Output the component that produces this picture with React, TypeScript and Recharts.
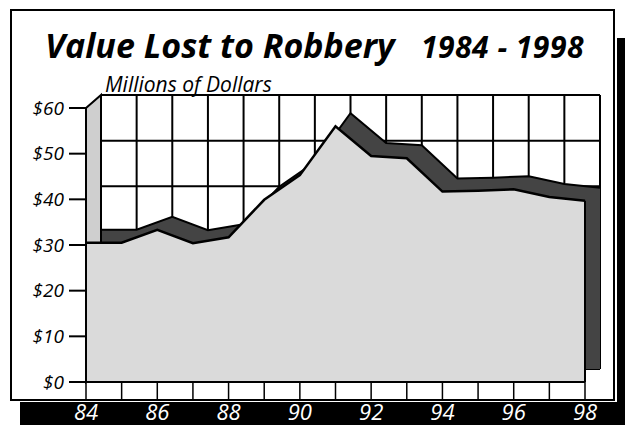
import React from 'react';
import { AreaChart, Area, XAxis, YAxis, CartesianGrid, ReferenceLine } from 'recharts';

// Value lost to robbery, millions of dollars
const years = [84, 85, 86, 87, 88, 89, 90, 91, 92, 93, 94, 95, 96, 97, 98];
const losses = [30.5, 30.5, 33.3, 30.4, 31.7, 39.9, 45.3, 56, 49.5, 49, 41.7, 41.9, 42.2, 40.5, 39.7];
const yTicks = [0, 10, 20, 30, 40, 50, 60];
const labelYears = [84, 86, 88, 90, 92, 94, 96, 98];

const data = years.map((year, i) => ({ year, value: losses[i] }));

const W = 625;
const H = 425;
const margin = { top: 108, right: 40, bottom: 3, left: 36 };
const Y_W = 50;
const X_H = 40;
// depth of the 3D effect
const DX = 15;
const DY = 13;

const FONT = '"Open Sans", Lato, sans-serif';

const plotLeft = margin.left + Y_W;
const plotTop = margin.top;
const plotBottom = H - margin.bottom - X_H;

const blank = () => '';

export default function App() {
    return (
        <div style={{ position: 'absolute', left: 0, top: 0, width: W, height: H, background: '#fff', overflow: 'hidden' }}>
            {/* shadow + frame */}
            <div style={{ position: 'absolute', left: 20, top: 402, width: 605, height: 23, background: '#000' }} />
            <div style={{ position: 'absolute', left: 617, top: 38, width: 8, height: 387, background: '#000' }} />
            <div style={{ position: 'absolute', left: 10, top: 9, width: 605, height: 392, border: '2px solid #000', boxSizing: 'border-box' }} />

            <svg width={W} height={H} style={{ position: 'absolute', left: 0, top: 0 }}>
                <text x={45} y={58} fontFamily={FONT} fontWeight={700} fontStyle="italic" fontSize={34}>Value Lost to Robbery</text>
                <text x={421} y={58} fontFamily={FONT} fontWeight={700} fontStyle="italic" fontSize={30} letterSpacing={0.5}>1984 - 1998</text>
                <text x={105} y={92} fontFamily={FONT} fontStyle="italic" fontSize={21}>Millions of Dollars</text>
            </svg>

            {/* back wall and the top of the ribbon */}
            <div style={{ position: 'absolute', left: DX, top: -DY }}>
                <AreaChart width={W} height={H} data={data} margin={margin}>
                    <CartesianGrid stroke="#000" strokeWidth={2} />
                    <XAxis dataKey="year" height={X_H} interval={0} tickFormatter={blank} axisLine={false} tickLine={false} />
                    <YAxis width={Y_W} domain={[0, 60]} ticks={yTicks} tickFormatter={blank} axisLine={false} tickLine={false} />
                    <Area type="linear" dataKey="value" fill="#444" fillOpacity={1} stroke="#000" strokeWidth={2} isAnimationActive={false} />
                </AreaChart>
            </div>

            {/* left side wall */}
            <svg width={W} height={H} style={{ position: 'absolute', left: 0, top: 0 }}>
                <polygon
                    points={`${plotLeft},${plotTop} ${plotLeft + DX},${plotTop - DY} ${plotLeft + DX},${plotBottom - DY} ${plotLeft},${plotBottom}`}
                    fill="#cfcfcf"
                    stroke="#000"
                    strokeWidth={2}
                />
            </svg>

            {/* front face */}
            <div style={{ position: 'absolute', left: 0, top: 0 }}>
                <AreaChart width={W} height={H} data={data} margin={margin}>
                    <XAxis
                        dataKey="year"
                        height={X_H}
                        interval={0}
                        tickSize={18}
                        tickMargin={4}
                        axisLine={{ stroke: '#000', strokeWidth: 2 }}
                        tickLine={{ stroke: '#000', strokeWidth: 1.5 }}
                        tick={{ fill: '#fff', fontSize: 22, fontStyle: 'italic', fontFamily: FONT }}
                        tickFormatter={(v: number) => (labelYears.includes(v) ? String(v) : '')}
                    />
                    <YAxis
                        width={Y_W}
                        domain={[0, 60]}
                        ticks={yTicks}
                        tickSize={17}
                        tickMargin={5}
                        axisLine={{ stroke: '#000', strokeWidth: 2 }}
                        tickLine={{ stroke: '#000', strokeWidth: 2 }}
                        tick={{ fill: '#000', fontSize: 19, fontStyle: 'italic', fontFamily: FONT }}
                        tickFormatter={(v: number) => `$${v}`}
                    />
                    <Area type="linear" dataKey="value" fill="#dadada" fillOpacity={1} stroke="#000" strokeWidth={2.5} isAnimationActive={false} />
                    <ReferenceLine
                        segment={[{ x: years[years.length - 1], y: 0 }, { x: years[years.length - 1], y: losses[losses.length - 1] }]}
                        stroke="#000"
                        strokeWidth={2}
                    />
                </AreaChart>
            </div>
        </div>
    );
}
